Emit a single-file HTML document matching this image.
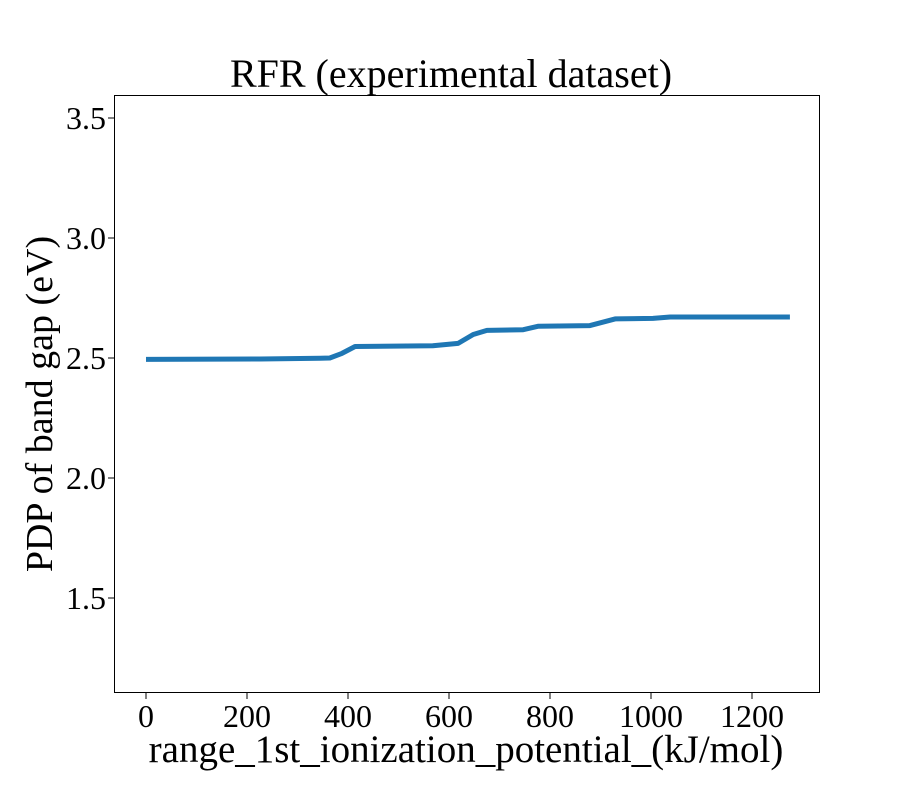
<!DOCTYPE html>
<html><head><meta charset="utf-8"><style>
body{margin:0;background:#fff;}
svg text{font-family:"Liberation Serif",serif;fill:#000;}
</style></head><body>
<svg width="910" height="780" id="chart">
<text x="451" y="87" font-size="40" text-anchor="middle">RFR (experimental dataset)</text>
<text x="466" y="762" font-size="39" text-anchor="middle">range_1st_ionization_potential_(kJ/mol)</text>
<text transform="translate(52,404) rotate(-90)" font-size="38" text-anchor="middle">PDP of band gap (eV)</text>
<g id="ticks"></g>
<path id="line" fill="none" stroke="#1f77b4" stroke-width="5" stroke-linejoin="round"/>
<rect x="114.5" y="95.5" width="705" height="597" fill="none" stroke="#000" stroke-width="1"/>
</svg>
<script>
const xValues=[0,226,345,364,388,414,568,618,648,675,747,776,879,929,1004,1038,1275];
const yValues=[2.494,2.496,2.499,2.500,2.519,2.548,2.551,2.561,2.598,2.615,2.618,2.632,2.635,2.663,2.665,2.671,2.671];
const xTicks=[0,200,400,600,800,1000,1200];
const yTicks=[1.5,2.0,2.5,3.0,3.5];
const xs=v=>146+v*0.505;
const ys=v=>358-(v-2.5)*240;
const ns="http://www.w3.org/2000/svg";
const g=document.getElementById('ticks');
let d="";
xValues.forEach((x,i)=>{d+=(i?"L":"M")+xs(x).toFixed(1)+","+ys(yValues[i]).toFixed(1);});
document.getElementById('line').setAttribute('d',d);
xTicks.forEach(t=>{
 const l=document.createElementNS(ns,'line');
 l.setAttribute('x1',xs(t));l.setAttribute('x2',xs(t));l.setAttribute('y1',693);l.setAttribute('y2',699);l.setAttribute('stroke','#000');
 
 
 g.appendChild(l);
 const tx=document.createElementNS(ns,'text');
 tx.setAttribute('x',xs(t));tx.setAttribute('y',727);tx.setAttribute('font-size','32');tx.setAttribute('text-anchor','middle');
 tx.textContent=t;
 
 
 g.appendChild(tx);
});
yTicks.forEach(t=>{
 const l=document.createElementNS(ns,'line');
 l.setAttribute('x1',108);l.setAttribute('x2',114);l.setAttribute('y1',ys(t));l.setAttribute('y2',ys(t));l.setAttribute('stroke','#000');
 
 
 g.appendChild(l);
 const tx=document.createElementNS(ns,'text');
 tx.setAttribute('x',106);tx.setAttribute('y',ys(t)+11);tx.setAttribute('font-size','32');tx.setAttribute('text-anchor','end');
 tx.textContent=t.toFixed(1);
 
 
 g.appendChild(tx);
});
</script>
</body></html>
